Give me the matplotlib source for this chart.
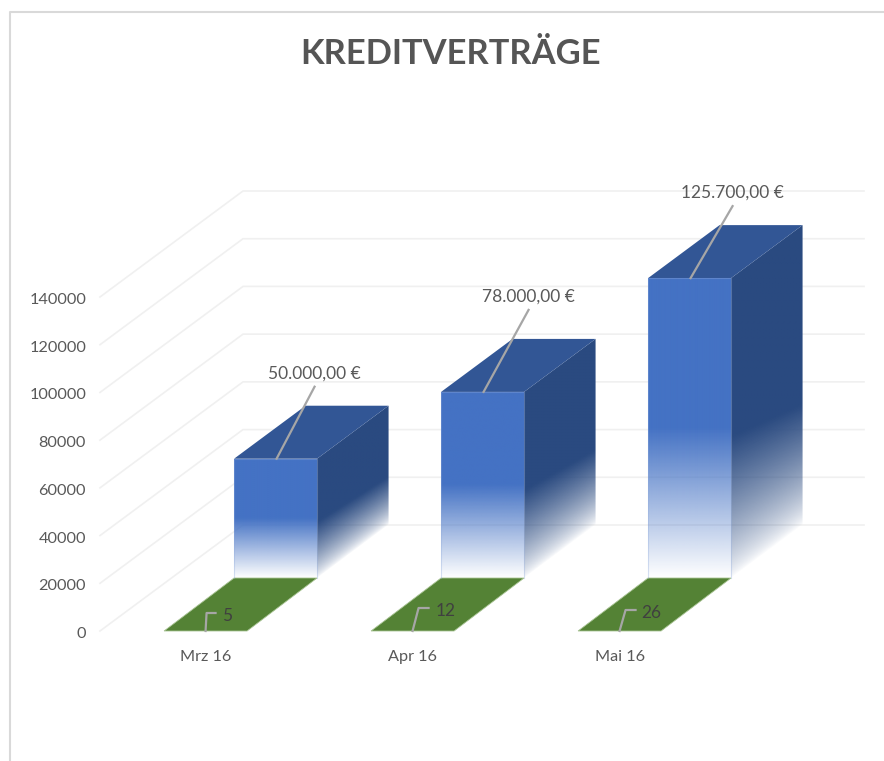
import numpy as np
import matplotlib
matplotlib.use("Agg")
import matplotlib.pyplot as plt
from matplotlib.patches import Polygon
from matplotlib.lines import Line2D

months = ["Mrz 16", "Apr 16", "Mai 16"]
loan_values = [50000, 78000, 125700]
loan_labels = ["50.000,00 €", "78.000,00 €", "125.700,00 €"]
contract_counts = [5, 12, 26]
y_ticks = [0, 20000, 40000, 60000, 80000, 100000, 120000, 140000]

# leader line shapes in pixels, the chart app placed these by hand
loan_leader_dx = [38, 45, 42]
loan_leader_dy = [72, 82, 72]
count_rise = [18, 23, 21]
count_bend = [1, 6, 6]
count_end = [10, 16, 16]
count_text = [12, 17, 16]

plt.rcParams['font.family'] = ['Lato', 'DejaVu Sans']

W, H = 884, 761
fig = plt.figure(figsize=(W / 100, H / 100), dpi=100)

# axes span only the front plane of the 3D box (pixels 100..721, 631..297)
ax = fig.add_axes([100 / W, 1 - 631 / H, 621 / W, 334 / H])
ax.set_xlim(-0.51, 2.49)
ax.set_ylim(0, 140000)
ax.patch.set_alpha(0)
for s in ax.spines.values():
    s.set_visible(False)

px_x = 3.0 / 621
px_y = 140000 / 334

# oblique projection, depth 0 = front, 1 = back wall
depth_x = 143 * px_x
depth_y = 106 * px_y
bar_w = 83 * px_x
row_split = 0.5
blue_shift = -1.5 * px_x


def proj(x, v, d):
    return x + d * depth_x, v + d * depth_y


ax.set_yticks(y_ticks)
ax.set_yticklabels([str(t) for t in y_ticks], color="#595959", fontsize=11.7, va="center")
ax.set_xticks(range(len(months)))
ax.set_xticklabels(months, color="#595959", fontsize=11.7)
ax.tick_params(axis='both', length=0)
ax.tick_params(axis='y', pad=10)
ax.tick_params(axis='x', pad=14)
for lab in ax.get_yticklabels():
    lab.set_transform(lab.get_transform() + matplotlib.transforms.ScaledTranslation(0, -3 / 100, fig.dpi_scale_trans))

# wall and floor grid
x_left, x_right = ax.get_xlim()
for t in y_ticks:
    bx, by = proj(x_left, t, 1)
    ex, ey = proj(x_right, t, 1)
    ax.plot([x_left, bx, ex], [t, by, ey], color="#f0f0f0", lw=1.2, clip_on=False, zorder=1)


def fade_image(poly, extent, alpha, rgb, z):
    rgba = np.zeros(alpha.shape + (4,))
    rgba[..., :3] = matplotlib.colors.to_rgb(rgb)
    rgba[..., 3] = alpha
    im = ax.imshow(rgba, extent=extent, origin="lower", aspect="auto", zorder=z, interpolation="bilinear")
    clip = Polygon(poly, transform=ax.transData)
    im.set_clip_path(clip)
    im.set_clip_box(fig.bbox)


# green bars, front row, practically flat
for i, n in enumerate(contract_counts):
    x0, x1 = i - bar_w / 2, i + bar_w / 2
    pts = [proj(x0, 0, 0), proj(x1, 0, 0), proj(x1 + blue_shift, 0, row_split), proj(x0 + blue_shift, 0, row_split)]
    ax.add_patch(Polygon(pts, closed=True, fc="#548235", ec="#a9c494", lw=0.6, clip_on=False, zorder=2))
    # leader line + label
    kx = [i, i + count_bend[i] * px_x, i + count_end[i] * px_x]
    ky = [0, count_rise[i] * px_y, count_rise[i] * px_y]
    ax.plot(kx, ky, color="#a6a6a6", lw=1.6, clip_on=False, zorder=3)
    ax.text(kx[-1] + count_text[i] * px_x, ky[-1] - 3 * px_y, str(n), color="#404040", fontsize=12.5,
            ha="center", va="center", clip_on=False, zorder=4)

# blue bars, back row, faded towards the floor
for i, v in enumerate(loan_values):
    x0, x1 = i - bar_w / 2 + blue_shift, i + bar_w / 2 + blue_shift
    fx0, base = proj(x0, 0, row_split)
    fx1, top = proj(x1, v, row_split)
    bx1, bbase = proj(x1, 0, 1)
    _, btop = proj(x1, v, 1)

    # side face
    xs = np.linspace(fx1, bx1, 60)
    ys = np.linspace(base, btop, 400)
    gx, gy = np.meshgrid(xs, ys)
    u = (gx - fx1) / (bx1 - fx1)
    floor = base + u * (bbase - base)
    fade_h = v * 0.47 * (1 - 0.15 * u)
    alpha = np.clip((gy - floor) / fade_h, 0, 1) ** 0.75
    fade_image([(fx1, base), (bx1, bbase), (bx1, btop), (fx1, top)], (fx1, bx1, base, btop), alpha, "#2a4a80", 5)

    # top face
    pts = [(fx0, top), (fx1, top), proj(x1, v, 1), proj(x0, v, 1)]
    ax.add_patch(Polygon(pts, closed=True, fc="#325695", ec="none", clip_on=False, zorder=5))

    # front face
    ys = np.linspace(base, top, 300)
    alpha = np.clip((ys - base) / (v * 0.5), 0, 1)[:, None] * np.ones((300, 2))
    fade_image([(fx0, base), (fx1, base), (fx1, top), (fx0, top)], (fx0, fx1, base, top), alpha, "#4472c4", 6)
    ax.plot([fx0, fx0, fx1, fx1], [base, top, top, base], color="#8faadc", lw=0.8, alpha=0.35,
            clip_on=False, zorder=7)

    # leader line + label
    lx = (fx0 + fx1) / 2 + 1 * px_x
    ex = lx + loan_leader_dx[i] * px_x
    ey = top + loan_leader_dy[i] * px_y
    ax.plot([lx, ex], [top, ey], color="#a6a6a6", lw=1.6, clip_on=False, zorder=8)
    ax.text(ex - 0.5 * px_x, ey + 13.5 * px_y, loan_labels[i], color="#595959", fontsize=12.5,
            ha="center", va="center", clip_on=False, zorder=9)

fig.text(451 / W, 1 - 54 / H, "KREDITVERTRÄGE", color="#555555", fontsize=24.8, fontweight="bold",
         ha="center", va="center")

# outer chart frame, cropped on the right and bottom
fig.add_artist(Line2D([10 / W, 10 / W, 1], [0, 1 - 12 / H, 1 - 12 / H], color="#d9d9d9", lw=1.5))

fig.savefig("out.png", dpi=100)
